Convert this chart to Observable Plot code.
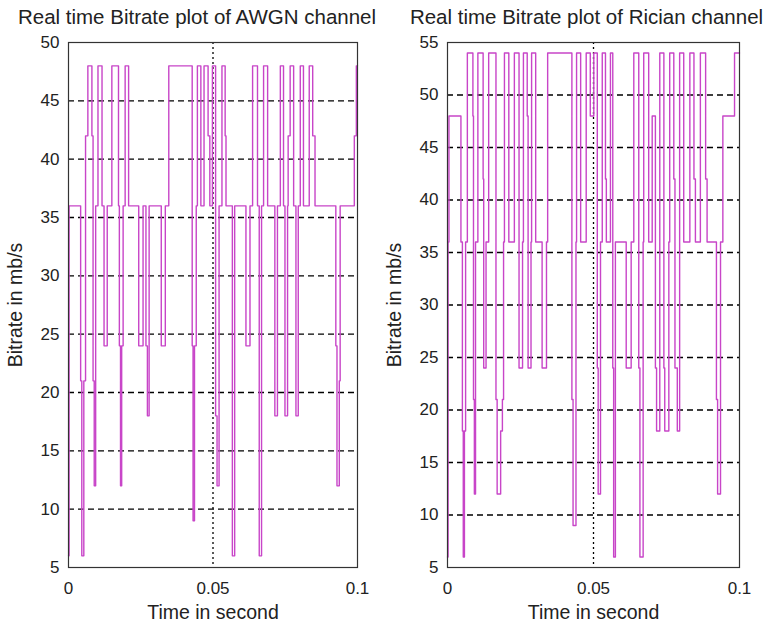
<!DOCTYPE html>
<html><head><meta charset="utf-8">
<script src="https://cdn.jsdelivr.net/npm/d3@7"></script>
<script src="https://cdn.jsdelivr.net/npm/@observablehq/plot@0.6"></script>
<style>
body{margin:0;background:#fff;}
#wrap{position:relative;width:763px;height:626px;overflow:hidden;background:#fff;}
#wrap svg{position:absolute;top:0;overflow:visible;}
</style></head><body><div id="wrap"></div>
<script>
// AWGN channel: change times (s) and bitrate (mb/s) held until next change
const awgnTime = [0,0.0002,0.0042,0.0046,0.0053,0.0059,0.0067,0.0081,0.0085,0.0089,0.0094,0.0102,0.0116,0.0123,0.0134,0.0150,0.0173,0.0176,0.0180,0.0184,0.0189,0.0196,0.0208,0.0243,0.0258,0.0268,0.0273,0.0279,0.0321,0.0335,0.0347,0.0428,0.0431,0.0436,0.0442,0.0446,0.0458,0.0469,0.0483,0.0489,0.0498,0.0509,0.0514,0.0521,0.0531,0.0542,0.0545,0.0567,0.0575,0.0614,0.0628,0.0637,0.0654,0.0660,0.0668,0.0675,0.0689,0.0714,0.0723,0.0733,0.0744,0.0749,0.0758,0.0760,0.0767,0.0779,0.0787,0.0795,0.0802,0.0813,0.0833,0.0845,0.0853,0.0925,0.0929,0.0937,0.0940,0.0989,0.0996,0.1];
const awgnRate = [6,36,21,6,21,42,48,42,21,12,36,48,36,24,36,48,36,24,12,24,36,48,36,24,36,24,18,36,24,36,48,24,9,24,36,48,36,48,42,36,48,18,12,36,48,42,36,6,36,24,36,48,36,6,36,48,36,18,36,48,36,18,36,42,48,36,18,36,48,36,48,42,36,24,12,21,36,42,48,48];

// Rician channel
const ricianTime = [0,0.0002,0.0005,0.0046,0.0051,0.0054,0.0058,0.0062,0.0068,0.0087,0.0089,0.0092,0.0096,0.0104,0.0122,0.0124,0.0132,0.0141,0.0166,0.0170,0.0182,0.0188,0.0192,0.0195,0.0210,0.0229,0.0245,0.0257,0.0260,0.0273,0.0276,0.0286,0.0288,0.0302,0.0324,0.0339,0.0343,0.0426,0.0430,0.0440,0.0442,0.0456,0.0475,0.0489,0.0501,0.0513,0.0516,0.0524,0.0530,0.0541,0.0544,0.0558,0.0566,0.0569,0.0575,0.0612,0.0629,0.0638,0.0655,0.0659,0.0670,0.0672,0.0689,0.0701,0.0712,0.0716,0.0727,0.0741,0.0744,0.0758,0.0761,0.0775,0.0779,0.0787,0.0795,0.0809,0.0830,0.0844,0.0849,0.0866,0.0884,0.0889,0.0921,0.0925,0.0935,0.0943,0.0983,0.1];
const ricianRate = [6,36,48,36,18,6,18,36,54,48,21,12,36,54,42,24,36,54,21,12,18,21,36,54,36,54,24,36,54,48,24,36,54,36,24,36,54,21,9,36,54,36,54,48,54,24,12,36,54,42,36,54,24,6,36,24,36,54,24,6,36,54,36,48,24,18,54,24,18,36,54,42,24,18,54,36,54,42,36,54,42,36,21,12,36,48,54,54];

const xTicks = [0, 0.05, 0.1];
const xTickLabels = ["0", "0.05", "0.1"];
const awgnTicks = [5,10,15,20,25,30,35,40,45,50];
const awgnGrid = [10,15,20,25,30,35,40,45];
const ricianTicks = [5,10,15,20,25,30,35,40,45,50,55];
const ricianGrid = [10,15,20,25,30,35,40,45,50];

const FONT = "'Liberation Sans', Arial, sans-serif";

function panel({time, rate, yMax, yTicks, grid, title, titleDx, width, ml, mr, left}) {
  const data = time.map((t, i) => ({t, v: rate[i]}));
  const svg = Plot.plot({
    width, height: 626,
    marginLeft: ml, marginRight: mr, marginTop: 42, marginBottom: 59,
    style: {fontFamily: FONT, fontSize: "17px", color: "#222", background: "transparent", overflow: "visible"},
    x: {domain: [0, 0.1], ticks: xTicks, tickFormat: (d) => xTickLabels[xTicks.indexOf(d)], tickSize: 0, tickPadding: 14, label: null},
    y: {domain: [5, yMax], ticks: yTicks, tickSize: 0, tickPadding: 9, label: null},
    marks: [
      Plot.ruleY(grid, {stroke: "#000", strokeDasharray: "6,4", strokeWidth: 1.3}),
      Plot.ruleX([0.05], {stroke: "#000", strokeDasharray: "2,3", strokeWidth: 1.3}),
      Plot.line(data, {x: "t", y: "v", curve: "step-after", stroke: "#c845c8", strokeWidth: 1.4}),
      Plot.frame({stroke: "#333", strokeWidth: 1.2}),
      Plot.text([title], {frameAnchor: "top", lineAnchor: "middle", dy: -25, dx: titleDx, fontSize: 20.5, fill: "#222"}),
      Plot.text(["Bitrate in mb/s"], {frameAnchor: "left", textAnchor: "middle", lineAnchor: "middle", dx: -53, rotate: -90, fontSize: 19.5, fill: "#222"}),
      Plot.text(["Time in second"], {frameAnchor: "bottom", lineAnchor: "middle", dy: 45, fontSize: 19.5, fill: "#222"})
    ]
  });
  svg.style.left = left + "px";
  return svg;
}

const wrap = document.getElementById("wrap");
wrap.appendChild(panel({time: awgnTime, rate: awgnRate, yMax: 50, yTicks: awgnTicks, grid: awgnGrid,
  title: "Real time Bitrate plot of AWGN channel", titleDx: -16, width: 390, ml: 68, mr: 33, left: 0}));
wrap.appendChild(panel({time: ricianTime, rate: ricianRate, yMax: 55, yTicks: ricianTicks, grid: ricianGrid,
  title: "Real time Bitrate plot of Rician channel", titleDx: -7, width: 373, ml: 57, mr: 24, left: 390}));
</script></body></html>
